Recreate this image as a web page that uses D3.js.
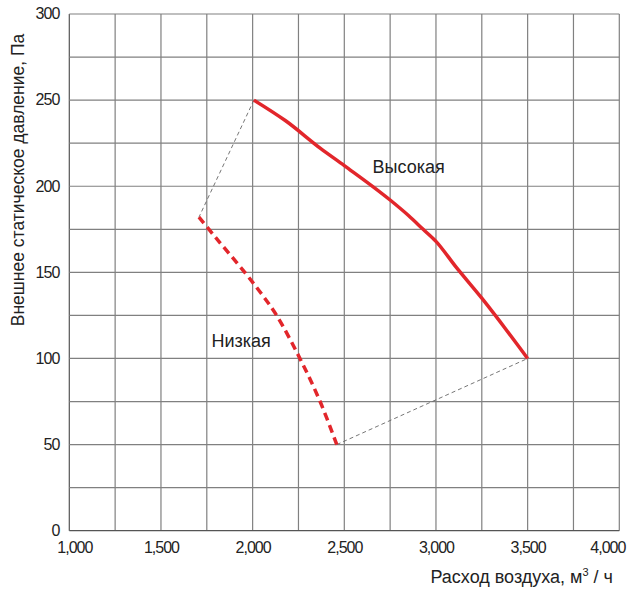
<!DOCTYPE html>
<html><head><meta charset="utf-8">
<script src="https://cdn.jsdelivr.net/npm/d3@7"></script>
<style>
body{margin:0;background:#fff;}
svg text{font-family:"Liberation Sans",Arial,sans-serif;fill:#222;}
</style></head><body>
<svg id="c" width="628" height="590"></svg>
<script>
const xTicks = [1000,1500,2000,2500,3000,3500,4000];
const yTicks = [0,50,100,150,200,250,300];
const xGrid = [1000,1250,1500,1750,2000,2250,2500,2750,3000,3250,3500,3750,4000];
const yGrid = [0,25,50,75,100,125,150,175,200,225,250,275,300];
const highFlow = [2007,2180,2370,2500,2750,2850,2930,3000,3110,3250,3500];
const highPres = [250,238,222,212,192,183,175,168,153,135,100];
const lowFlow = [1707,1800,1957,2045,2131,2258,2368,2459];
const lowPres = [182,170,150,138,125,100,75,50];
const seriesLabels = ["Высокая","Низкая"];
const xTitle = "Расход воздуха, м";
const yTitle = "Внешнее статическое давление, Па";

const svg = d3.select("#c");
const L=69.3,R=619.3,T=14,B=530.7;
const x = d3.scaleLinear().domain([1000,4000]).range([L,R]);
const y = d3.scaleLinear().domain([0,300]).range([B,T]);

const g = svg.append("g");
g.selectAll(".vg").data(xGrid).enter().append("line")
 .attr("x1",d=>x(d)).attr("x2",d=>x(d)).attr("y1",T).attr("y2",B)
 .attr("stroke",d=>d===1000?"#555":"#808080").attr("stroke-width",1.2);
g.selectAll(".hg").data(yGrid).enter().append("line")
 .attr("y1",d=>y(d)).attr("y2",d=>y(d)).attr("x1",L).attr("x2",R)
 .attr("stroke",d=>d===0?"#555":"#808080").attr("stroke-width",1.2);

// axes tick labels
const xa = d3.axisBottom(x).tickValues(xTicks).tickSize(0).tickPadding(8).tickFormat(d3.format(","));
const xg = svg.append("g").attr("transform",`translate(0,${B})`).call(xa);
xg.select(".domain").remove();
xg.selectAll("text").attr("font-size",16).attr("fill","#222").attr("font-family","Liberation Sans, Arial")
 .attr("letter-spacing","-1").attr("dy","0.92em").attr("dx",d=>d===1000?5:(d===4000?-12:0));
const ya = d3.axisLeft(y).tickValues(yTicks).tickSize(0).tickPadding(10);
const yg = svg.append("g").attr("transform",`translate(${L},0)`).call(ya);
yg.select(".domain").remove();
yg.selectAll("text").attr("font-size",16).attr("fill","#222").attr("font-family","Liberation Sans, Arial")
 .attr("letter-spacing","-1").attr("dy","0.3em");

// connectors
const conn = [[[highFlow[0],highPres[0]],[lowFlow[0],lowPres[0]]],
              [[lowFlow[lowFlow.length-1],lowPres[lowPres.length-1]],[highFlow[highFlow.length-1],highPres[highPres.length-1]]]];
const ln = d3.line().x(d=>x(d[0])).y(d=>y(d[1]));
conn.forEach(c=>svg.append("path").attr("d",ln(c)).attr("fill","none")
 .attr("stroke","#666").attr("stroke-width",0.9).attr("stroke-dasharray","4,3"));

const curve = d3.line().x(d=>x(d[0])).y(d=>y(d[1])).curve(d3.curveMonotoneX);
svg.append("path").attr("d",curve(highFlow.map((f,i)=>[f,highPres[i]])))
 .attr("fill","none").attr("stroke","#e2262b").attr("stroke-width",3.5);
svg.append("path").attr("d",d3.line().x(d=>x(d[0])).y(d=>y(d[1])).curve(d3.curveCatmullRom)(lowFlow.map((f,i)=>[f,lowPres[i]])))
 .attr("fill","none").attr("stroke","#e2262b").attr("stroke-width",3.5).attr("stroke-dasharray","8,5");

svg.append("text").attr("x",372.5).attr("y",172.7).attr("font-size",18).text(seriesLabels[0]);
svg.append("text").attr("x",211.5).attr("y",346.5).attr("font-size",18).text(seriesLabels[1]);

const xt = svg.append("text").attr("x",613).attr("y",583).attr("text-anchor","end").attr("font-size",18);
xt.append("tspan").text(xTitle);
xt.append("tspan").attr("dy",-7).attr("font-size",11).text("3");
xt.append("tspan").attr("dy",7).text(" / ч");

svg.append("text").attr("transform","translate(23.5,180) rotate(-90)").attr("text-anchor","middle")
 .attr("font-size",17.5).text(yTitle);
</script></body></html>
